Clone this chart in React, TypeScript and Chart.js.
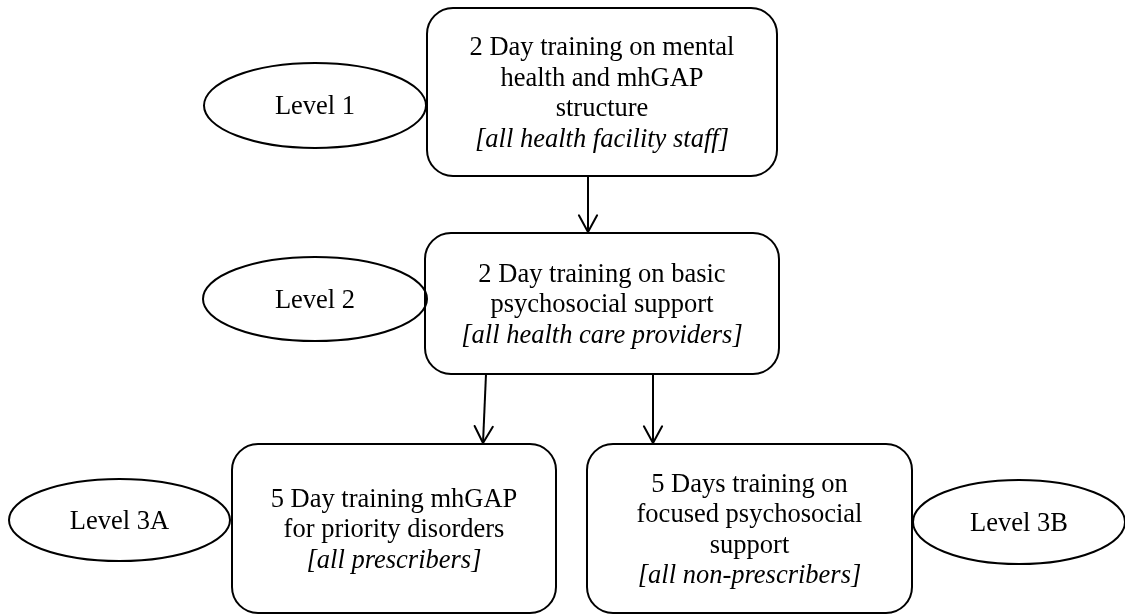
import { useEffect, useRef } from "react";
import { Chart, registerables } from "chart.js";

Chart.register(...registerables);

// ---- diagram content (data units = 0..1125 horizontally, 0..614 vertically) ----
const boxLines: string[][] = [
  ["2 Day training on mental", "health and mhGAP", "structure", "[all health facility staff]"],
  ["2 Day training on basic", "psychosocial support", "[all health care providers]"],
  ["5 Day training mhGAP", "for priority disorders", "[all prescribers]"],
  ["5 Days training on", "focused psychosocial", "support", "[all non-prescribers]"],
];
const boxLeft = [427, 425, 232, 587];
const boxRight = [777, 779, 556, 912];
const boxTop = [8, 233, 444, 444];
const boxBottom = [176, 374, 613, 613];

const levelLabels = ["Level 1", "Level 2", "Level 3A", "Level 3B"];
const levelCx = [315, 315, 119.5, 1019];
const levelCy = [105.5, 299, 520, 522];
const levelRx = [111, 112, 110.5, 106];
const levelRy = [42.5, 42, 41, 42];

const arrowFromX = [588, 486, 653];
const arrowFromY = [176, 374, 374];
const arrowToX = [588, 483, 653];
const arrowToY = [232, 443, 443];

// ---- styles ----
const INK = "#000000";
const FONT_FAMILY = '"Liberation Serif", "Times New Roman", serif';
const FONT_SIZE = 26.5;
const LINE_GAP = 30.5;
const CORNER = 26;
const STROKE = 2;

const diagramPlugin = {
  id: "diagram",
  afterDatasetsDraw(chart: any) {
    const { ctx, scales } = chart;
    const xs = scales.x;
    const ys = scales.y;
    const px = (v: number) => xs.getPixelForValue(v);
    const py = (v: number) => ys.getPixelForValue(v);
    const sx = (d: number) => Math.abs(xs.getPixelForValue(d) - xs.getPixelForValue(0));
    const sy = (d: number) => Math.abs(ys.getPixelForValue(d) - ys.getPixelForValue(0));

    ctx.save();
    ctx.strokeStyle = INK;
    ctx.fillStyle = INK;
    ctx.lineWidth = STROKE;
    ctx.lineJoin = "round";
    ctx.lineCap = "round";

    // arrowheads
    for (let i = 0; i < arrowToX.length; i++) {
      const x1 = px(arrowFromX[i]);
      const y1 = py(arrowFromY[i]);
      const x2 = px(arrowToX[i]);
      const y2 = py(arrowToY[i]);
      const ang = Math.atan2(y2 - y1, x2 - x1);
      const len = 19;
      const spread = 0.5;
      ctx.beginPath();
      ctx.moveTo(x2 - len * Math.cos(ang - spread), y2 - len * Math.sin(ang - spread));
      ctx.lineTo(x2, y2);
      ctx.lineTo(x2 - len * Math.cos(ang + spread), y2 - len * Math.sin(ang + spread));
      ctx.stroke();
    }

    // rounded boxes with text
    for (let i = 0; i < boxLines.length; i++) {
      const x0 = px(boxLeft[i]);
      const x1 = px(boxRight[i]);
      const y0 = py(boxTop[i]);
      const y1 = py(boxBottom[i]);
      ctx.beginPath();
      ctx.roundRect(x0, y0, x1 - x0, y1 - y0, CORNER);
      ctx.stroke();

      const lines = boxLines[i];
      const cx = (x0 + x1) / 2;
      const cy = (y0 + y1) / 2;
      ctx.textAlign = "center";
      ctx.textBaseline = "middle";
      lines.forEach((t, k) => {
        const italic = t.startsWith("[");
        ctx.font = `${italic ? "italic " : ""}${FONT_SIZE}px ${FONT_FAMILY}`;
        const y = cy + (k - (lines.length - 1) / 2) * LINE_GAP + 2;
        ctx.fillText(t, cx, y);
      });
    }

    // level ellipses
    for (let i = 0; i < levelLabels.length; i++) {
      const cx = px(levelCx[i]);
      const cy = py(levelCy[i]);
      ctx.beginPath();
      ctx.ellipse(cx, cy, sx(levelRx[i]), sy(levelRy[i]), 0, 0, Math.PI * 2);
      ctx.stroke();
      ctx.font = `${FONT_SIZE}px ${FONT_FAMILY}`;
      ctx.textAlign = "center";
      ctx.textBaseline = "middle";
      ctx.fillText(levelLabels[i], cx, cy + 2);
    }
    ctx.restore();
  },
};

export default function App() {
  const ref = useRef<HTMLCanvasElement | null>(null);

  useEffect(() => {
    document.body.style.margin = "0";
    document.body.style.background = "#ffffff";
    const canvas = ref.current;
    if (!canvas) return;

    const datasets = arrowFromX.map((_, i) => ({
      label: `arrow${i}`,
      data: [
        { x: arrowFromX[i], y: arrowFromY[i] },
        { x: arrowToX[i], y: arrowToY[i] },
      ],
      showLine: true,
      borderColor: INK,
      borderWidth: STROKE,
      pointRadius: 0,
      pointHoverRadius: 0,
      fill: false,
      tension: 0,
    }));

    const chart = new Chart(canvas, {
      type: "scatter",
      data: { datasets },
      options: {
        responsive: false,
        animation: false,
        layout: { padding: 0 },
        plugins: { legend: { display: false }, tooltip: { enabled: false } },
        events: [],
        scales: {
          x: { type: "linear", min: 0, max: 1125, display: false },
          y: { type: "linear", min: 0, max: 614, reverse: true, display: false },
        },
      },
      plugins: [diagramPlugin],
    });
    return () => chart.destroy();
  }, []);

  return (
    <div style={{ width: 1125, height: 614, background: "#ffffff" }}>
      <canvas ref={ref} width={1125} height={614} style={{ display: "block" }} />
    </div>
  );
}
